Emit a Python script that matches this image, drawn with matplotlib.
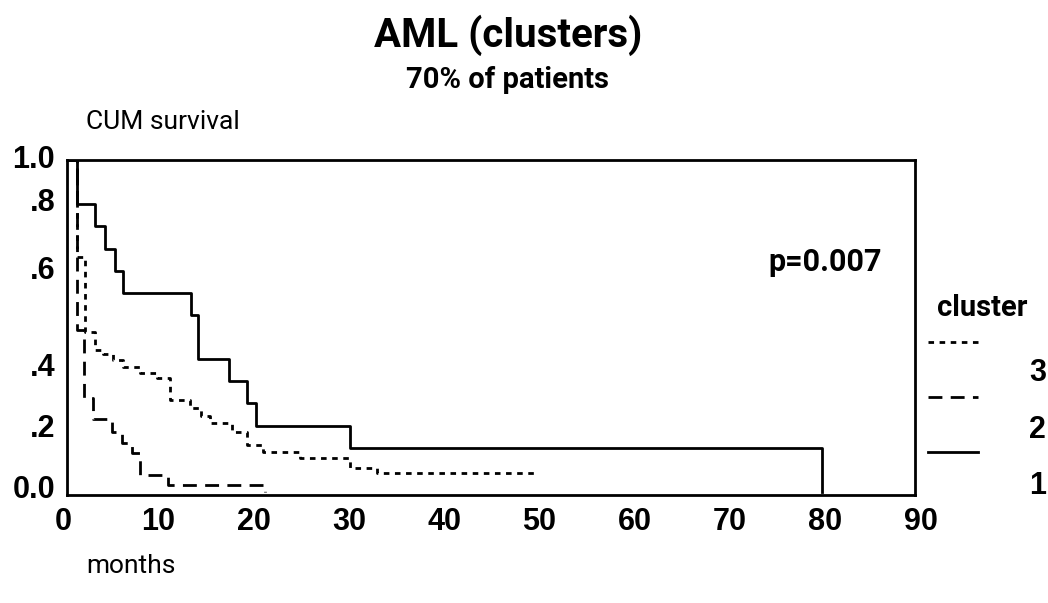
import matplotlib
matplotlib.use("Agg")
import matplotlib.pyplot as plt
from matplotlib.lines import Line2D
from matplotlib.transforms import blended_transform_factory

# Kaplan-Meier steps: (time in months, survival after drop)
c1_time = [0, 1.44, 3.36, 4.4, 5.46, 6.26, 13.4, 14.2, 17.4, 19.3, 20.3, 30.1, 79.6]
c1_surv = [1.0, 0.867, 0.80, 0.733, 0.667, 0.60, 0.533, 0.40, 0.333, 0.267, 0.20, 0.133, 0.0]

c2_time = [0, 1.47, 2.2, 3.15, 5.1, 6.2, 7.2, 8.1, 11.0, 21.2]
c2_surv = [1.0, 0.488, 0.283, 0.22, 0.18, 0.148, 0.117, 0.051, 0.021, 0.0]

c3_time = [0, 1.47, 2.3, 3.36, 4.2, 5.2, 6.3, 8.1, 9.9, 11.2, 13.3, 14.5, 15.4,
           17.7, 19.3, 21.0, 24.9, 30.1, 32.9, 49.8]
c3_surv = [1.0, 0.708, 0.482, 0.428, 0.416, 0.398, 0.377, 0.357, 0.343, 0.277, 0.253,
           0.23, 0.208, 0.181, 0.142, 0.12, 0.102, 0.072, 0.057, 0.057]

x_ticks = [0, 10, 20, 30, 40, 50, 60, 70, 80, 90]
# y labels sit unevenly in the source figure
y_tick_pos = [1.0, 0.87, 0.667, 0.375, 0.19, 0.006]
y_tick_labels = ["1.0", ".8", ".6", ".4", ".2", "0.0"]

narrow = ["Roboto", "DejaVu Sans"]
bold_font = ["Liberation Sans", "DejaVu Sans"]

W, H = 1048, 603


def fx(px):
    return px / W


def fy(py):
    return 1 - py / H


fig = plt.figure(figsize=(10.48, 6.03), dpi=100)
ax = fig.add_axes([fx(67), fy(495), (915 - 67) / W, (495 - 160) / H])

lw = 2.0
ax.step(c1_time, c1_surv, where="post", color="black", lw=lw)
ax.step(c2_time, c2_surv, where="post", color="black", lw=lw, linestyle=(0, (5, 3)))
ax.step(c3_time, c3_surv, where="post", color="black", lw=lw, linestyle=(0, (2, 2)))

ax.set_xlim(0.42, 89.4)
ax.set_ylim(-0.009, 1.0)
for s in ax.spines.values():
    s.set_linewidth(2.0)
ax.set_xticks([])
ax.set_yticks([])

tx = blended_transform_factory(ax.transData, ax.transAxes)
for v in x_ticks:
    ax.text(v, -0.08, str(v), transform=tx, ha="center", va="center",
            fontsize=22, fontweight="bold", family=bold_font, clip_on=False)
ty = blended_transform_factory(ax.transAxes, ax.transData)
for v, lab in zip(y_tick_pos, y_tick_labels):
    ax.text(-0.014, v, lab, transform=ty, ha="right", va="center",
            fontsize=22, fontweight="bold", family=bold_font, clip_on=False)

fig.text(fx(508), fy(35), "AML (clusters)", ha="center", va="center",
         fontsize=29, fontweight="bold", family=narrow)
fig.text(fx(507), fy(80), "70% of patients", ha="center", va="center",
         fontsize=21, fontweight="bold", family=narrow)
fig.text(fx(86), fy(122), "CUM survival", ha="left", va="center",
         fontsize=19, family=narrow)
fig.text(fx(86), fy(566), "months", ha="left", va="center",
         fontsize=19, family=narrow)
fig.text(fx(882), fy(262), "p=0.007", ha="right", va="center",
         fontsize=22, fontweight="bold", family=narrow)

# legend on the right
fig.text(fx(982), fy(308), "cluster", ha="center", va="center",
         fontsize=21, fontweight="bold", family=narrow)
legend_rows = [
    ((0, (2, 2)), 342, "3", 373),
    ((0, (5, 3)), 397, "2", 430),
    ("-", 452, "1", 486),
]
for ls, ly, lab, lab_y in legend_rows:
    fig.add_artist(Line2D([fx(928), fx(978)], [fy(ly), fy(ly)], color="black",
                          lw=lw, linestyle=ls, transform=fig.transFigure))
    fig.text(fx(1046), fy(lab_y), lab, ha="right", va="center",
             fontsize=22, fontweight="bold", family=bold_font)

fig.savefig("out.png", dpi=100)
